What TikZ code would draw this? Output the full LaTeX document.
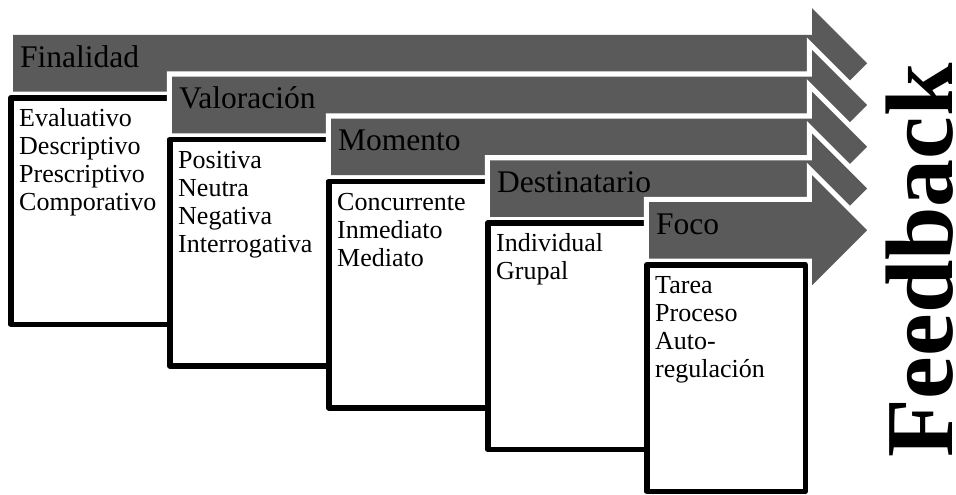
\documentclass[tikz,border=0pt]{standalone}
\usepackage{fontspec}
\setmainfont{Liberation Serif}
\definecolor{arrowgray}{HTML}{5A5A5A}
\tikzset{
  blockarrow/.style={fill=arrowgray, preaction={draw=white, line width=10.5pt}},
  infobox/.style={draw=black, fill=white, line width=5.5pt, line join=round},
  titletext/.style={anchor=base west, inner sep=0pt, font=\fontsize{31.5}{34}\selectfont},
  boxtext/.style={anchor=base west, inner sep=0pt, font=\fontsize{26}{28}\selectfont},
  bigword/.style={rotate=90, anchor=base west, inner sep=0pt, font=\fontsize{96}{100}\selectfont\bfseries},
}
\begin{document}
\begin{tikzpicture}[x=1pt,y=-1pt]
\useasboundingbox (0,0) rectangle (956,495);
\foreach \i/\ttl/\items in {%
  0/Finalidad/{Evaluativo\\Descriptivo\\Prescriptivo\\Comporativo},
  1/Valoración/{Positiva\\Neutra\\Negativa\\Interrogativa},
  2/Momento/{Concurrente\\Inmediato\\Mediato},
  3/Destinatario/{Individual\\Grupal},
  4/Foco/{Tarea\\Proceso\\Auto-\\regulación}}{
  \pgfmathsetmacro\L{13+159*\i}
  \pgfmathsetmacro\T{35+41.75*\i}
  \pgfmathsetmacro\B{\T+56.5}
  \pgfmathsetmacro\C{(\T+\B)/2}
  \pgfmathsetmacro\HT{\C-55}
  \pgfmathsetmacro\HB{\C+55}
  \path[blockarrow] (\L,\T) -- (812,\T) -- (812,\HT) -- (867,\C) -- (812,\HB) -- (812,\B) -- (\L,\B) -- cycle;
  \node[titletext] (title\i) at (\L+7,\T+32) {\ttl};
  \pgfmathsetmacro\BL{8+159*\i}
  \pgfmathsetmacro\BT{95+41.75*\i}
  \draw[infobox] (\BL+2.75,\BT+2.75) rectangle (\BL+164-2.75,\BT+232-2.75);
  \node[boxtext] (items\i) at (\BL+11,\BT+31.5) {\parbox[t]{150pt}{\raggedright\fontsize{26}{28}\selectfont \items}};
}
\node[bigword] (feedback) at (952,458) {Feedback};
\end{tikzpicture}
\end{document}
